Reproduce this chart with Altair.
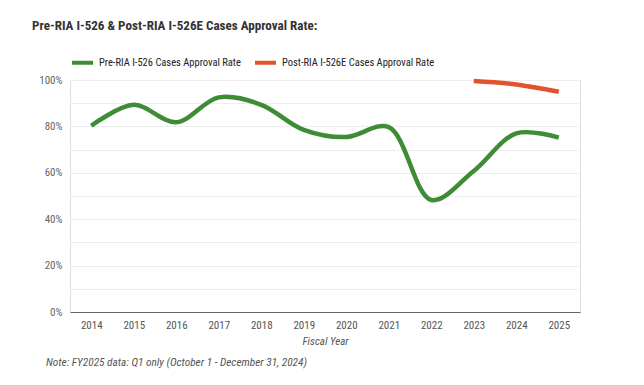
import altair as alt
import pandas as pd

years = ["2014", "2015", "2016", "2017", "2018", "2019", "2020", "2021", "2022", "2023", "2024", "2025"]
pre_ria = [0.803, 0.893, 0.818, 0.925, 0.893, 0.785, 0.754, 0.797, 0.483, 0.608, 0.770, 0.752]
post_years = ["2023", "2024", "2025"]
post_ria = [0.996, 0.981, 0.949]

series_names = ["Pre-RIA I-526 Cases Approval Rate", "Post-RIA I-526E Cases Approval Rate"]
series_colors = ["#3f8c38", "#e2522b"]

title_text = "Pre-RIA I-526 & Post-RIA I-526E Cases Approval Rate:"
note_text = "Note: FY2025 data: Q1 only (October 1 - December 31, 2024)"

rows = [{"year": y, "value": v, "series": series_names[0]} for y, v in zip(years, pre_ria)]
rows += [{"year": y, "value": v, "series": series_names[1]} for y, v in zip(post_years, post_ria)]
df = pd.DataFrame(rows)

FONT = "Liberation Sans Narrow, Roboto Condensed, Roboto, sans-serif"
W, H = 510, 232

lines = alt.Chart(df).mark_line(interpolate="catmull-rom", strokeWidth=4.5, strokeCap="butt").encode(
    x=alt.X("year:O", sort=years, scale=alt.Scale(type="point", padding=0.5, domain=years),
            axis=alt.Axis(title="Fiscal Year", labelAngle=0, ticks=False, grid=False,
                          domainColor="#666", labelColor="#555", labelFontSize=11,
                          labelPadding=7, titleFontStyle="italic", titleFontWeight="normal",
                          titleColor="#555", titleFontSize=11, titlePadding=5, labelFont=FONT, titleFont=FONT)),
    y=alt.Y("value:Q", scale=alt.Scale(domain=[0, 1], nice=False),
            axis=alt.Axis(title=None, values=[i / 10 for i in range(11)], format=".0%",
                          labelExpr="round(datum.value*10) % 2 == 0 ? format(datum.value, '.0%') : ''",
                          ticks=False, domain=False, gridColor="#eeeeee", labelColor="#666",
                          labelFontSize=11, labelPadding=8, labelFont=FONT)),
    color=alt.Color("series:N", scale=alt.Scale(domain=series_names, range=series_colors),
                    legend=alt.Legend(title=None, orient="none", direction="horizontal",
                                      legendX=0, legendY=-30, symbolType="stroke",
                                      symbolStrokeWidth=4, symbolSize=441, labelOffset=4,
                                      columnPadding=6, gridAlign="each", labelFontSize=10.5,
                                      labelColor="#222", labelFont=FONT, labelLimit=300)),
    detail="series:N",
)

title = alt.Chart(alt.Data(values=[{}])).mark_text(
    align="left", baseline="middle", fontSize=13.1, fontWeight="bold", color="#333", font=FONT
).encode(x=alt.value(-38), y=alt.value(-54), text=alt.value(title_text))

note = alt.Chart(alt.Data(values=[{}])).mark_text(
    align="left", baseline="middle", fontSize=11.3, fontStyle="italic", color="#555", font=FONT
).encode(x=alt.value(-24), y=alt.value(283), text=alt.value(note_text))

chart = alt.layer(lines, title, note).properties(
    width=W, height=H,
    autosize=alt.AutoSizeParams(type="none"),
    padding={"left": 62, "top": 72, "right": 56, "bottom": 65},
).configure_view(stroke=None).configure(background="white")

chart.save("out.html", embed_options={"renderer": "svg", "actions": False})
